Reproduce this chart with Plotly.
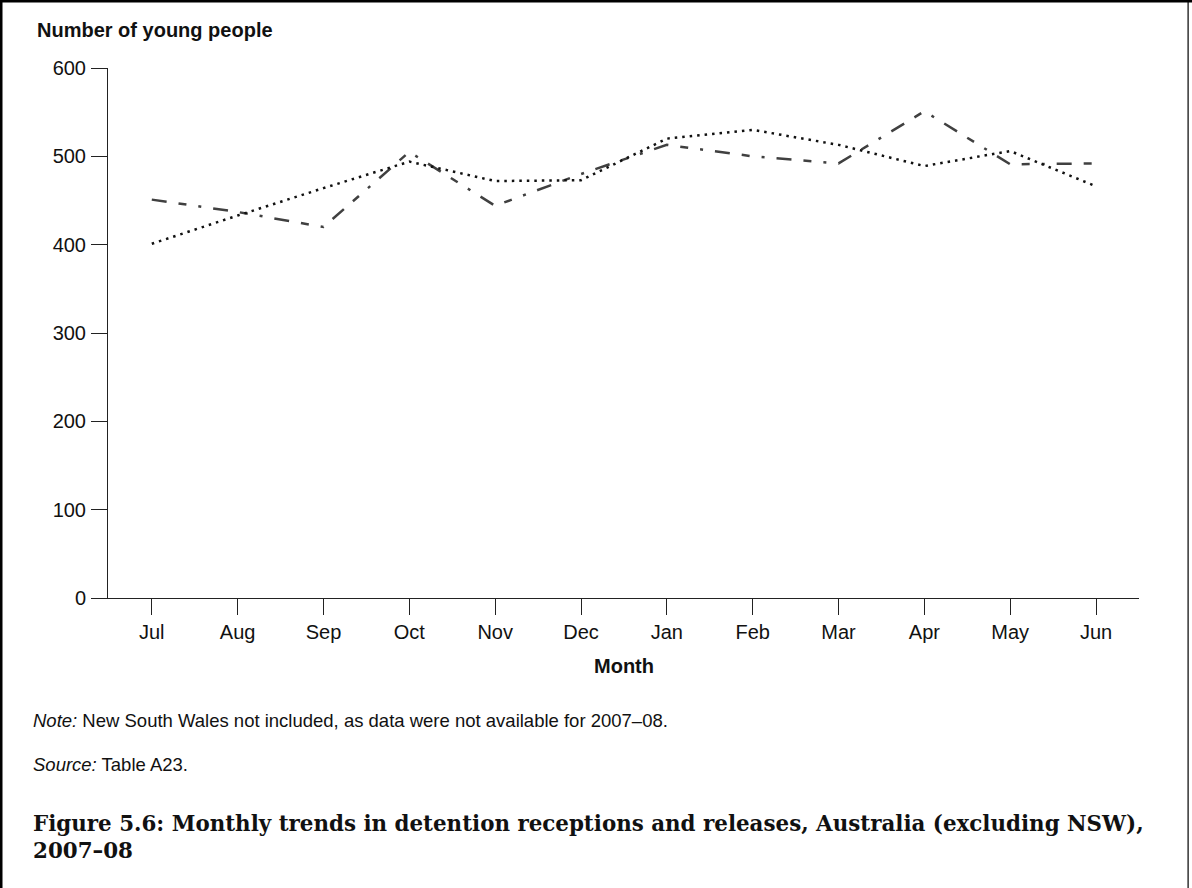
import plotly.graph_objects as go

W, H = 1192, 888

months = ["Jul", "Aug", "Sep", "Oct", "Nov", "Dec", "Jan", "Feb", "Mar", "Apr", "May", "Jun"]
receptions = [451, 437, 420, 505, 444, 480, 513, 500, 492, 551, 491, 492]
releases = [401, 433, 464, 494, 472, 473, 520, 530, 513, 489, 506, 466]
y_ticks = [0, 100, 200, 300, 400, 500, 600]

SANS = "Arial, 'Liberation Sans', sans-serif"
SERIF = "'Palatino Linotype', 'Book Antiqua', Palatino, 'DejaVu Serif', serif"

def px_x(p):
    return p / W

def px_y(p):
    return 1 - p / H

fig = go.Figure()
fig.add_trace(go.Scatter(
    x=months, y=receptions, mode="lines", name="Receptions",
    line=dict(color="#404040", width=2.5, dash="15px,12px,8px,12px,3px,12px"),
    showlegend=False, hoverinfo="skip"))
fig.add_trace(go.Scatter(
    x=months, y=releases, mode="lines", name="Releases",
    line=dict(color="#111111", width=2.5, dash="2.5px,5px"),
    showlegend=False, hoverinfo="skip"))

fig.update_layout(
    template="none",
    width=W, height=H, autosize=False,
    margin=dict(l=0, r=0, t=0, b=0, pad=0),
    paper_bgcolor="white", plot_bgcolor="white",
    font=dict(family=SANS, size=20, color="#111111"),
    hovermode=False,
    xaxis=dict(
        domain=[px_x(108), px_x(1139)], automargin=False,
        type="category", range=[-0.51, 11.5],
        showline=True, linecolor="#222222", linewidth=1,
        ticks="outside", ticklen=16, tickcolor="#222222", tickwidth=1,
        tickfont=dict(size=20, family=SANS, color="#111111"),
        showgrid=False, zeroline=False, ticklabelstandoff=0,
    ),
    yaxis=dict(
        domain=[px_y(598), px_y(68)], automargin=False,
        range=[0, 600], tickvals=y_ticks,
        showline=True, linecolor="#222222", linewidth=1,
        ticks="outside", ticklen=16, tickcolor="#222222", tickwidth=1,
        tickfont=dict(size=20, family=SANS, color="#111111"),
        showgrid=False, zeroline=False, ticklabelstandoff=1,
    ),
)

ann = [
    dict(text="<b>Number of young people</b>", x=px_x(35), y=px_y(30), xanchor="left",
         font=dict(size=20, family=SANS, color="#111111")),
    dict(text="<b>Month</b>", x=px_x(624), y=px_y(666), xanchor="center",
         font=dict(size=20, family=SANS, color="#111111")),
    dict(text="<i>Note:</i> New South Wales not included, as data were not available for 2007–08.",
         x=px_x(31), y=px_y(720), xanchor="left",
         font=dict(size=18.5, family=SANS, color="#111111")),
    dict(text="<i>Source:</i> Table A23.", x=px_x(31), y=px_y(764), xanchor="left",
         font=dict(size=18.5, family=SANS, color="#111111")),
    dict(text="<b>Figure 5.6: Monthly trends in detention receptions and releases, Australia (excluding NSW),</b>",
         x=px_x(31), y=px_y(823), xanchor="left",
         font=dict(size=21.4, family=SERIF, color="#111111")),
    dict(text="<b>2007–08</b>", x=px_x(31), y=px_y(850), xanchor="left",
         font=dict(size=21.4, family=SERIF, color="#111111")),
]
for a in ann:
    a.update(xref="paper", yref="paper", yanchor="middle", showarrow=False)
fig.update_layout(annotations=ann)

# frame
frame = [
    dict(x0=0, x1=1, y0=px_y(2.5), y1=1),
    dict(x0=0, x1=px_x(2.5), y0=0, y1=1),
    dict(x0=px_x(1187.5), x1=px_x(1188.7), y0=0, y1=1),
]
for f in frame:
    f.update(type="rect", xref="paper", yref="paper", fillcolor="#000000", line=dict(width=0), layer="above")
fig.update_layout(shapes=frame)

fig.write_html(
    "out.html",
    config={"displayModeBar": False, "staticPlot": True},
    post_script=(
        "document.body.style.margin='0';document.body.style.padding='0';"
        "document.documentElement.style.overflow='hidden';"
        "var gd=document.getElementById('{plot_id}');"
        "gd.style.position='absolute';gd.style.top='0';gd.style.left='0';"
    ),
)
